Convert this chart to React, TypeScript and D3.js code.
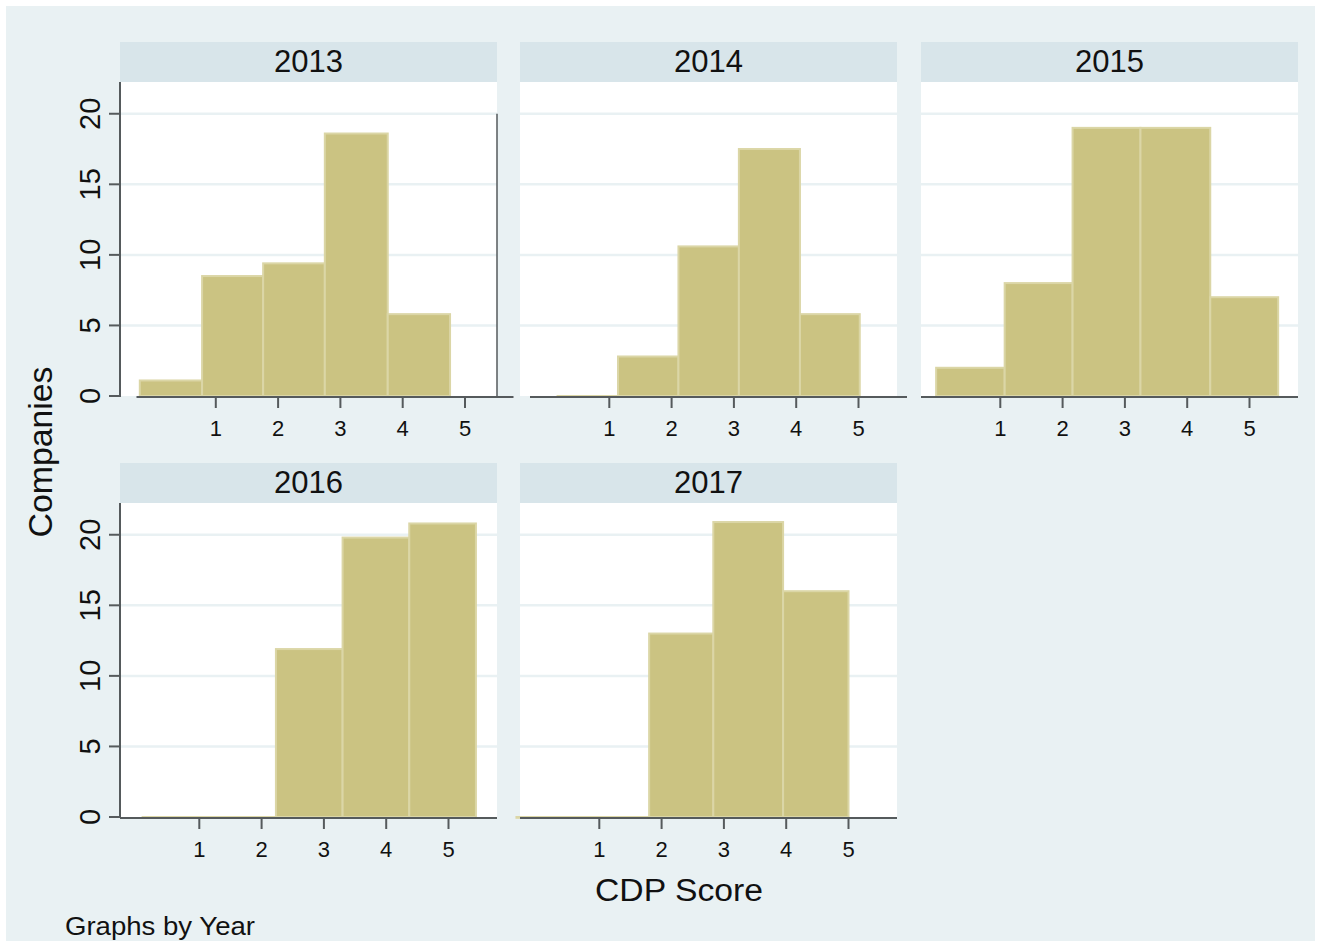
import React from "react";
import * as d3 from "d3";

// Histogram of CDP scores, one panel per year
const years = ["2013", "2014", "2015", "2016", "2017"];

// bin edges (CDP score units) and company counts per bin
const edges2013 = [-0.22, 0.78, 1.76, 2.75, 3.76, 4.76];
const counts2013 = [1.1, 8.5, 9.4, 18.6, 5.8];

const edges2014 = [0.17, 1.14, 2.11, 3.08, 4.06, 5.02];
const counts2014 = [0, 2.8, 10.6, 17.5, 5.8];

const edges2015 = [-0.03, 1.07, 2.16, 3.25, 4.37, 5.46];
const counts2015 = [2, 8, 19, 19, 7];

const edges2016 = [0.09, 1.16, 2.23, 3.3, 4.37, 5.44];
const counts2016 = [0, 0, 11.9, 19.8, 20.8];

const edges2017 = [-0.33, 0.73, 1.8, 2.83, 3.95, 5.0];
const counts2017 = [0, 0, 13, 20.9, 16];

const xTicks = [1, 2, 3, 4, 5];
const yTicks = [0, 5, 10, 15, 20];
const gridTicks = [5, 10, 15, 20];

const allEdges = [edges2013, edges2014, edges2015, edges2016, edges2017];
const allCounts = [counts2013, counts2014, counts2015, counts2016, counts2017];

// layout
const W = 1320;
const H = 941;
const colX = [120, 520, 921];
const rowTop = [42, 463];
const panelW = 377;
const headerH = 40;
const plotH = 314;
const unitPx = 62.3;
const tickOffset = 79.3;
const axisShift = [16.5, 10, 0, 0, 0];
const yMax = 22.25;

const FONT = "Arial, 'Liberation Sans', Helvetica, sans-serif";
const C = {
  bg: "#e9f1f3",
  header: "#d8e5ea",
  plot: "#ffffff",
  grid: "#e9f1f3",
  bar: "#cbc382",
  barEdge: "#dbd6a6",
  axis: "#555a5c",
  text: "#111111",
};

function Panel({ i }: { i: number }) {
  const col = i % 3;
  const row = Math.floor(i / 3);
  const left = colX[col];
  const hTop = rowTop[row];
  const pTop = hTop + headerH;
  const pBottom = pTop + plotH;
  const shift = axisShift[i];
  const xStart = 1 - (tickOffset + shift) / unitPx;
  const x = d3
    .scaleLinear()
    .domain([xStart, xStart + panelW / unitPx])
    .range([left, left + panelW]);
  const y = d3.scaleLinear().domain([0, yMax]).range([pBottom, pTop]);
  const edges = allEdges[i];
  const counts = allCounts[i];
  const axisY = y(0) + 1;

  return (
    <g>
      <rect x={left} y={hTop} width={panelW} height={headerH} fill={C.header} />
      <text
        x={left + panelW / 2}
        y={hTop + 30}
        textAnchor="middle"
        fontFamily={FONT}
        fontSize={31}
        fill={C.text}
      >
        {years[i]}
      </text>
      <rect x={left} y={pTop} width={panelW} height={plotH} fill={C.plot} />
      {gridTicks.map((t) => (
        <line
          key={t}
          x1={left}
          x2={left + panelW}
          y1={y(t)}
          y2={y(t)}
          stroke={C.grid}
          strokeWidth={2.5}
        />
      ))}
      {counts.map((c, k) => {
        const x0 = x(edges[k]);
        const x1 = x(edges[k + 1]);
        return (
          <rect
            key={k}
            x={x0}
            y={y(c)}
            width={x1 - x0}
            height={Math.max(y(0) - y(c), 0.8)}
            fill={C.bar}
            stroke={C.barEdge}
            strokeWidth={2}
          />
        );
      })}
      {i === 0 && (
        <line
          x1={left + panelW}
          x2={left + panelW}
          y1={y(20)}
          y2={y(0)}
          stroke={C.axis}
          strokeWidth={1.5}
        />
      )}
      {/* x axis */}
      <line
        x1={left + shift}
        x2={left + panelW + shift}
        y1={axisY}
        y2={axisY}
        stroke={C.axis}
        strokeWidth={2.2}
      />
      {xTicks.map((t) => (
        <g key={t}>
          <line x1={x(t)} x2={x(t)} y1={axisY} y2={axisY + 11} stroke={C.axis} strokeWidth={2} />
          <text
            x={x(t)}
            y={axisY + 39}
            textAnchor="middle"
            fontFamily={FONT}
            fontSize={22}
            fill={C.text}
          >
            {t}
          </text>
        </g>
      ))}
      {/* y axis on first column */}
      {col === 0 && (
        <g>
          <line x1={left} x2={left} y1={pTop} y2={y(0) + 1} stroke={C.axis} strokeWidth={2} />
          {yTicks.map((t) => (
            <g key={t}>
              <line x1={left - 11} x2={left} y1={y(t)} y2={y(t)} stroke={C.axis} strokeWidth={2} />
              <text
                transform={`translate(${left - 20},${y(t)}) rotate(-90)`}
                textAnchor="middle"
                fontFamily={FONT}
                fontSize={29}
                fill={C.text}
              >
                {t}
              </text>
            </g>
          ))}
        </g>
      )}
    </g>
  );
}

export default function App() {
  return (
    <div>
      <style>{`body{margin:0}`}</style>
      <svg width={W} height={H} style={{ display: "block" }}>
        <rect x={0} y={0} width={W} height={H} fill="#ffffff" />
        <rect x={6} y={6} width={1309} height={935} fill={C.bg} />
        {years.map((_, i) => (
          <Panel key={i} i={i} />
        ))}
        <text
          transform={`translate(52,452) rotate(-90)`}
          textAnchor="middle"
          fontFamily={FONT}
          fontSize={33}
          textLength={171}
          lengthAdjust="spacingAndGlyphs"
          fill={C.text}
        >
          Companies
        </text>
        <text
          x={679}
          y={901}
          textAnchor="middle"
          fontFamily={FONT}
          fontSize={31}
          textLength={168}
          lengthAdjust="spacingAndGlyphs"
          fill={C.text}
        >
          CDP Score
        </text>
        <text
          x={65}
          y={935}
          fontFamily={FONT}
          fontSize={25}
          textLength={190}
          lengthAdjust="spacingAndGlyphs"
          fill={C.text}
        >
          Graphs by Year
        </text>
      </svg>
    </div>
  );
}
